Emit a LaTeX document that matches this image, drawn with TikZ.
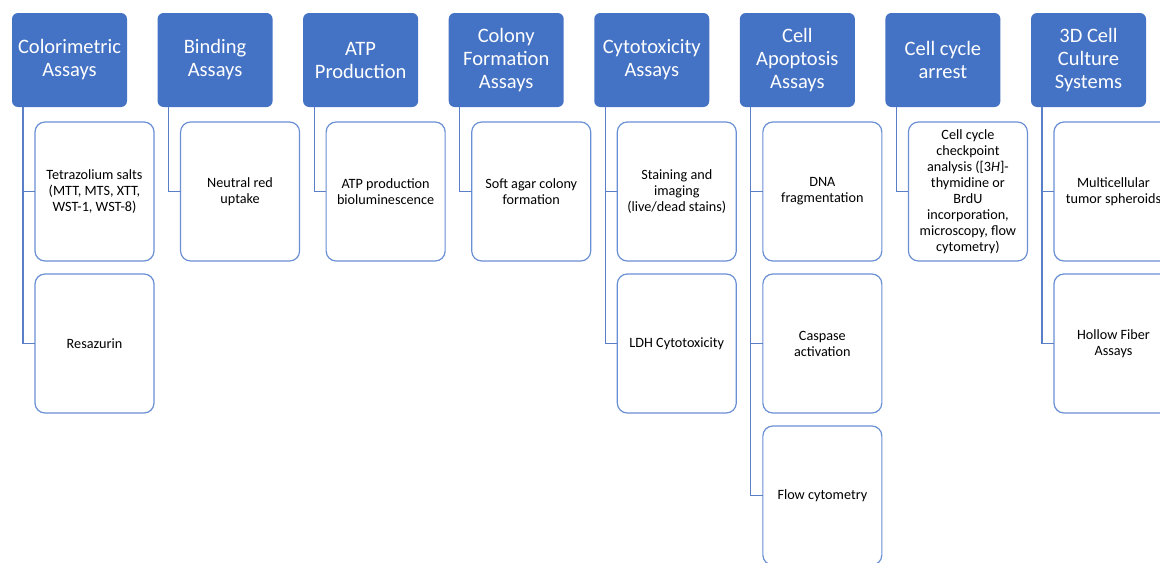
\documentclass[tikz,border=0pt]{standalone}
\usepackage{fontspec}
\setmainfont{Carlito}
\usetikzlibrary{positioning}
\definecolor{HeadBlue}{HTML}{4472C4}
\definecolor{EdgeBlue}{HTML}{6A8FD5}
\definecolor{LinkBlue}{HTML}{5B7FC7}
\tikzset{
  hbox/.style={fill=HeadBlue, rounded corners=6bp, align=center,
    minimum width=115bp, minimum height=94bp, inner sep=2bp, outer sep=0pt, text=white,
    font=\fontsize{20.5bp}{23bp}\selectfont},
  ibox/.style={draw=EdgeBlue, line width=1.2bp, fill=white, rounded corners=10bp,
    align=center, minimum width=119bp, minimum height=139bp, inner sep=2bp, outer sep=0pt,
    font=\fontsize{14.2bp}{16bp}\selectfont},
  link/.style={draw=LinkBlue, line width=1.2bp},
}
\begin{document}
\begin{tikzpicture}[node distance=30.57bp]
  \useasboundingbox (0,0) rectangle (1160bp,-563bp);
  \clip (0,0) rectangle (1160bp,-563bp);
    % column heads
    \node[hbox, anchor=north west] (color) at (12bp,-13bp) {Colorimetric\\Assays};
    \node[hbox, right=of color] (bind) {Binding\\Assays};
    \node[hbox, right=of bind] (atp) {ATP\\Production};
    \node[hbox, right=of atp] (colony) {Colony\\Formation\\Assays};
    \node[hbox, right=of colony] (cyto) {Cytotoxicity\\Assays};
    \node[hbox, right=of cyto] (apop) {Cell\\Apoptosis\\Assays};
    \node[hbox, right=of apop] (cycle) {Cell cycle\\arrest};
    \node[hbox, right=of cycle] (threed) {3D Cell\\Culture\\Systems};
    % items
    \node[ibox, below right=15bp and 23bp of color.south west] (tetra) {Tetrazolium salts\\(MTT, MTS, XTT,\\WST-1, WST-8)};
    \node[ibox, below=13bp of tetra] (resaz) {Resazurin};
    \node[ibox, below right=15bp and 23bp of bind.south west] (neutral) {Neutral red\\uptake};
    \node[ibox, below right=15bp and 23bp of atp.south west] (biolum) {ATP production\\bioluminescence};
    \node[ibox, below right=15bp and 23bp of colony.south west] (softagar) {Soft agar colony\\formation};
    \node[ibox, below right=15bp and 23bp of cyto.south west] (stain) {Staining and\\imaging\\(live/dead stains)};
    \node[ibox, below=13bp of stain] (ldh) {LDH Cytotoxicity};
    \node[ibox, below right=15bp and 23bp of apop.south west] (dna) {DNA\\fragmentation};
    \node[ibox, below=13bp of dna] (caspase) {Caspase\\activation};
    \node[ibox, below=13bp of caspase] (flow) {Flow cytometry};
    \node[ibox, below right=15bp and 23bp of cycle.south west] (checkpt) {Cell cycle\\checkpoint\\analysis ([3\textit{H}]-\\thymidine or\\BrdU\\incorporation,\\microscopy, flow\\cytometry)};
    \node[ibox, below right=15bp and 23bp of threed.south west] (sphere) {Multicellular\\tumor spheroids};
    \node[ibox, below=13bp of sphere] (hollow) {Hollow Fiber\\Assays};
    % links
    \draw[link] ([xshift=11bp]color.south west) |- (tetra.west);
    \draw[link] ([xshift=11bp]color.south west) |- (resaz.west);
    \draw[link] ([xshift=11bp]bind.south west) |- (neutral.west);
    \draw[link] ([xshift=11bp]atp.south west) |- (biolum.west);
    \draw[link] ([xshift=11bp]colony.south west) |- (softagar.west);
    \draw[link] ([xshift=11bp]cyto.south west) |- (stain.west);
    \draw[link] ([xshift=11bp]cyto.south west) |- (ldh.west);
    \draw[link] ([xshift=11bp]apop.south west) |- (dna.west);
    \draw[link] ([xshift=11bp]apop.south west) |- (caspase.west);
    \draw[link] ([xshift=11bp]apop.south west) |- (flow.west);
    \draw[link] ([xshift=11bp]cycle.south west) |- (checkpt.west);
    \draw[link] ([xshift=11bp]threed.south west) |- (sphere.west);
    \draw[link] ([xshift=11bp]threed.south west) |- (hollow.west);
\end{tikzpicture}
\end{document}
